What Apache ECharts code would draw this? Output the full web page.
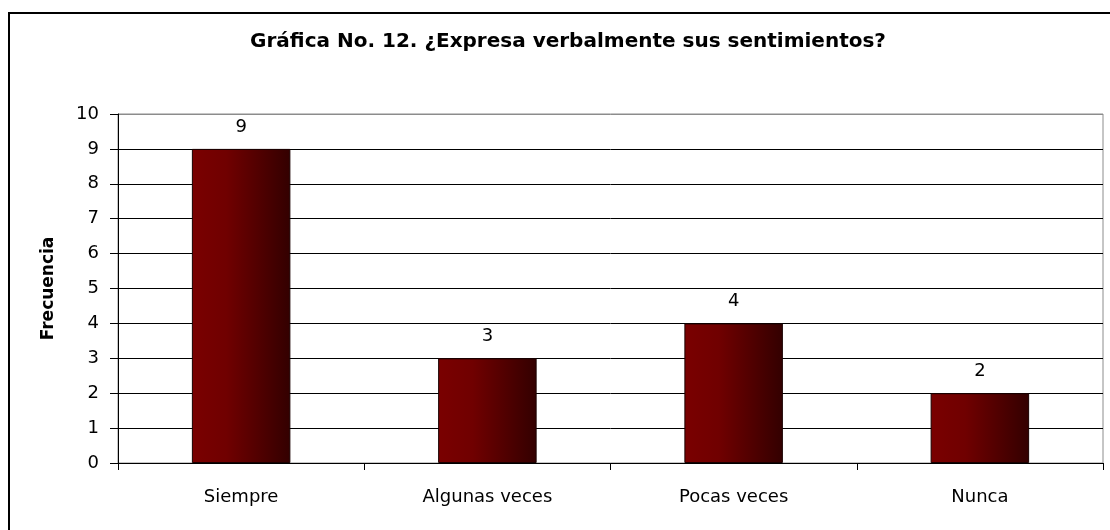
<!DOCTYPE html>
<html>
<head>
<meta charset="utf-8">
<script src="https://cdn.jsdelivr.net/npm/echarts@6/dist/echarts.min.js"></script>
<style>
  html, body { margin: 0; padding: 0; background: #fff; }
  #chart { width: 1110px; height: 530px; }
</style>
</head>
<body>
<div id="chart"></div>
<script>
var categories = ['Siempre', 'Algunas veces', 'Pocas veces', 'Nunca']
var frecuencia = [9, 3, 4, 2]
var yTicks = [0, 1, 2, 3, 4, 5, 6, 7, 8, 9, 10]

var chart = echarts.init(document.getElementById('chart'))
// the original text is a wide Arial, DejaVu Sans gets closer to its widths
var font = '"DejaVu Sans", "Liberation Sans", Arial, sans-serif'

// gridlines black, the top one (10) is the grey plot border
var splitColors = yTicks.map(function (v) { return v === 10 ? '#8c8c8c' : '#000' })

chart.setOption({
  animation: false,
  textStyle: { fontFamily: font },
  graphic: [{
    type: 'rect',
    shape: { x: 9, y: 13, width: 1120, height: 540 },
    style: { fill: 'none', stroke: '#000', lineWidth: 2 },
    z: -1
  }],
  title: {
    text: 'Gráfica No. 12. ¿Expresa verbalmente sus sentimientos?',
    left: 563,
    textAlign: 'center',
    top: 27,
    textStyle: { fontFamily: font, fontSize: 20, fontWeight: 'bold', color: '#000' }
  },
  grid: {
    left: 118,
    right: 7,
    top: 114,
    bottom: 67,
    show: true,
    borderColor: '#8c8c8c',
    borderWidth: 1,
    backgroundColor: 'transparent'
  },
  xAxis: {
    type: 'category',
    data: categories,
    axisLine: { lineStyle: { color: '#000', width: 1 } },
    axisTick: { show: true, length: 7, alignWithLabel: false, lineStyle: { color: '#000' } },
    axisLabel: { color: '#000', fontSize: 18, margin: 25, fontFamily: font },
    splitLine: { show: false }
  },
  yAxis: {
    type: 'value',
    min: 0,
    max: 10,
    interval: 1,
    name: 'Frecuencia',
    nameLocation: 'middle',
    nameRotate: 90,
    nameGap: 61,
    nameTextStyle: { color: '#000', fontSize: 17, fontWeight: 'bold', fontFamily: font },
    axisLine: { show: true, lineStyle: { color: '#000', width: 1 } },
    axisTick: { show: true, length: 8, lineStyle: { color: '#000' } },
    axisLabel: { color: '#000', fontSize: 18, margin: 19, fontFamily: font },
    splitLine: { show: true, lineStyle: { color: splitColors, width: 1 } }
  },
  series: [{
    type: 'bar',
    data: frecuencia,
    barWidth: '40%',
    itemStyle: {
      color: new echarts.graphic.LinearGradient(0, 0, 1, 0, [
        { offset: 0, color: '#7a0000' },
        { offset: 0.35, color: '#700000' },
        { offset: 1, color: '#330000' }
      ]),
      borderColor: '#1a0000',
      borderWidth: 1
    },
    label: {
      show: true,
      position: 'top',
      distance: 13,
      color: '#000',
      fontSize: 18,
      fontFamily: font
    }
  }]
})
</script>
</body>
</html>
